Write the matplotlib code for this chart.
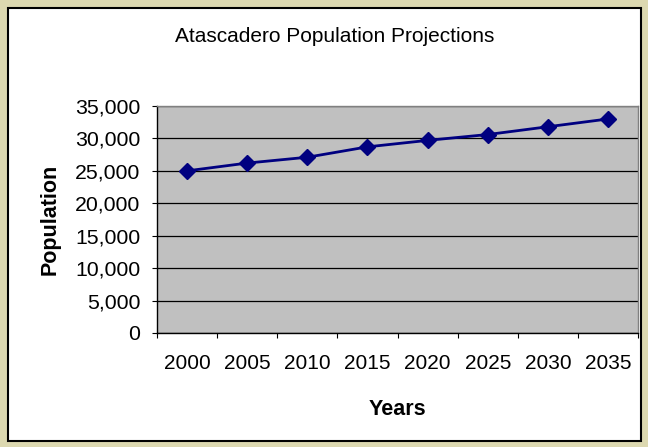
import matplotlib
matplotlib.use("Agg")
import matplotlib.pyplot as plt
from matplotlib.patches import Rectangle
from matplotlib.ticker import FuncFormatter, FixedLocator, NullFormatter

years = ["2000", "2005", "2010", "2015", "2020", "2025", "2030", "2035"]
population = [25000, 26200, 27100, 28700, 29700, 30600, 31800, 33000]
y_ticks = [0, 5000, 10000, 15000, 20000, 25000, 30000, 35000]

W, H = 648, 447
plt.rcParams["font.family"] = ["Liberation Sans", "DejaVu Sans"]

fig = plt.figure(figsize=(W / 100, H / 100), dpi=100)
fig.patch.set_facecolor("#DCD8B0")

# white chart area with black frame
fig.patches.append(Rectangle((7.5 / W, 1 - 440.5 / H), 633 / W, 433 / H,
                             transform=fig.transFigure, facecolor="white",
                             edgecolor="black", linewidth=1.5, zorder=-5))

ax = fig.add_axes([157 / W, 1 - 333 / H, 481 / W, 227 / H])
ax.set_zorder(2)
ax.set_facecolor("#C0C0C0")
for s in ax.spines.values():
    s.set_color("#808080")
    s.set_linewidth(1.0)
ax.spines["left"].set_color("black")
ax.spines["bottom"].set_color("black")

n = len(years)
x = list(range(n))
ax.plot(x, population, color="#000080", linewidth=2, marker="D",
        markersize=8, markerfacecolor="#000080", markeredgecolor="#000080",
        zorder=3)

ax.set_xlim(-0.5, n - 0.5)
ax.set_ylim(0, 35000)
ax.set_yticks(y_ticks)
ax.yaxis.set_major_formatter(FuncFormatter(lambda v, p: f"{int(v):,}"))
ax.grid(axis="y", color="black", linewidth=0.9)
ax.set_axisbelow(True)

# category boundaries carry tick marks, labels sit under each category
ax.xaxis.set_major_locator(FixedLocator([i - 0.5 for i in range(n + 1)]))
ax.xaxis.set_major_formatter(NullFormatter())
ax.xaxis.set_minor_locator(FixedLocator(x))
ax.set_xticklabels(years, minor=True)
ax.tick_params(axis="x", which="minor", length=0, pad=15, labelsize=15)
ax.tick_params(axis="x", which="major", length=3.6, direction="out",
               color="black")
ax.tick_params(axis="y", length=3.6, direction="out", labelsize=15.3, pad=8.6,
               color="black")

ax.set_xlabel("Years", fontsize=15.5, fontweight="bold", labelpad=19)
ax.set_ylabel("Population", fontsize=15.5, fontweight="bold", labelpad=10)

fig.text(335 / W, 1 - 36 / H, "Atascadero Population Projections",
         ha="center", va="center", fontsize=15)

fig.savefig("out.png", dpi=100, facecolor=fig.get_facecolor())
